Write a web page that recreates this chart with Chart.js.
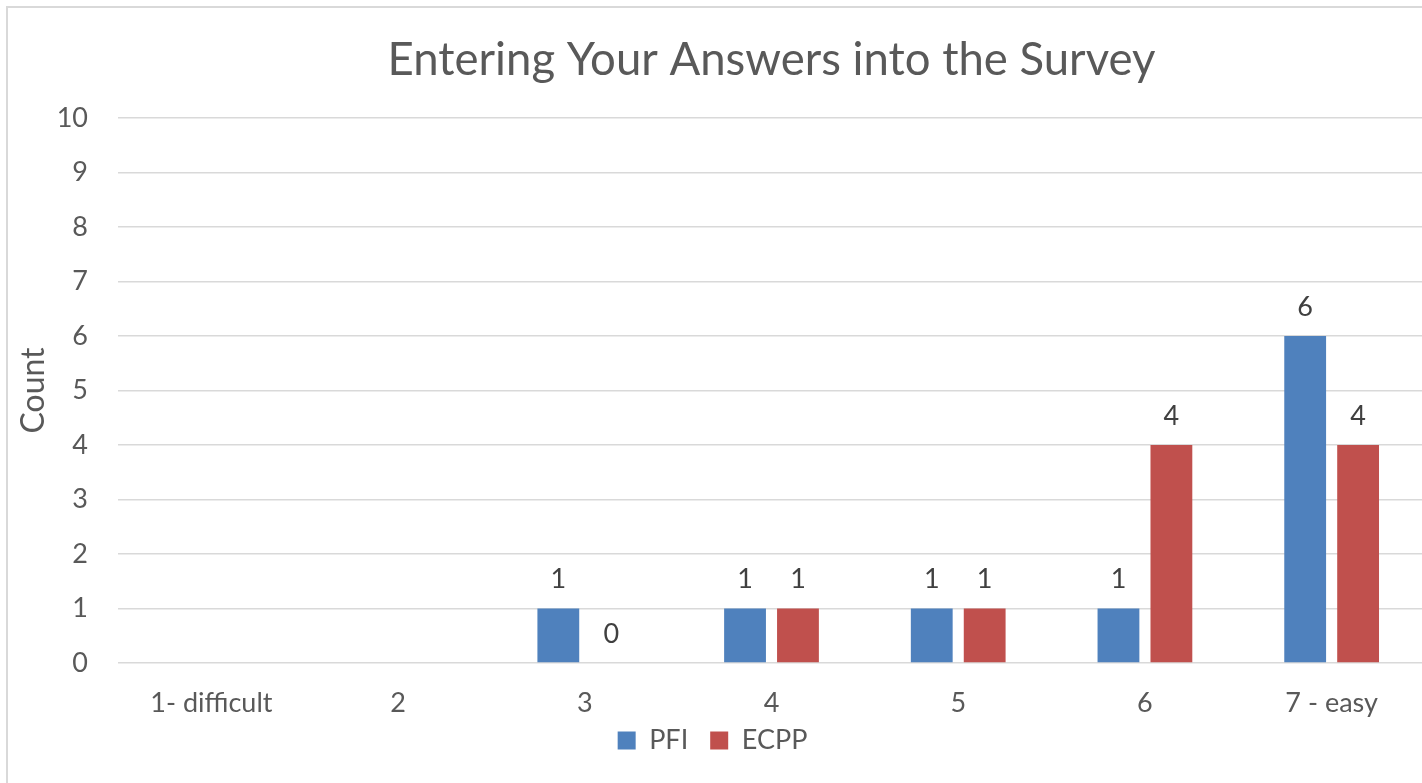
<!DOCTYPE html>
<html>
<head>
<meta charset="utf-8">
<script src="https://cdn.jsdelivr.net/npm/chart.js@4/dist/chart.umd.min.js"></script>
<style>
  html, body { margin: 0; padding: 0; background: #fff; overflow: hidden; }
  #frame { position: absolute; left: 6px; top: 6px; width: 1500px; height: 900px; border: 2px solid #d9d9d9; }
  #wrap { position: absolute; left: 0; top: 0; width: 1428px; height: 783px; }
</style>
</head>
<body>
<div id="frame"></div>
<div id="wrap"><canvas id="chart" width="1428" height="783"></canvas></div>
<script>
// Data
var CATEGORIES = ['1- difficult', '2', '3', '4', '5', '6', '7 - easy'];
var PFI = [null, null, 1, 1, 1, 1, 6];
var ECPP = [null, null, 0, 1, 1, 4, 4];
var Y_TICKS = [0, 1, 2, 3, 4, 5, 6, 7, 8, 9, 10];

var FONT = "Lato, 'Open Sans', sans-serif";
var TEXT = '#595959';

// Title centred over the plot area, like the original
var titlePlugin = {
  id: 'plotTitle',
  afterDraw: function(chart) {
    var ctx = chart.ctx, a = chart.chartArea;
    ctx.save();
    ctx.font = '45.5px ' + FONT;
    ctx.fillStyle = TEXT;
    ctx.textAlign = 'center';
    ctx.textBaseline = 'middle';
    ctx.fillText('Entering Your Answers into the Survey', (a.left + a.right) / 2, 60);
    ctx.restore();
  }
};

// Value labels above each bar (skips missing values)
var valuePlugin = {
  id: 'values',
  afterDatasetsDraw: function(chart) {
    var ctx = chart.ctx;
    ctx.save();
    ctx.font = '27px ' + FONT;
    ctx.fillStyle = '#404040';
    ctx.textAlign = 'center';
    ctx.textBaseline = 'middle';
    chart.data.datasets.forEach(function(ds, i) {
      chart.getDatasetMeta(i).data.forEach(function(bar, j) {
        var v = ds.data[j];
        if (v === null || v === undefined) return;
        ctx.fillText(String(v), bar.x, bar.y - 29);
      });
    });
    ctx.restore();
  }
};

// Nudge the legend a little closer to the axis labels
var legendShift = {
  id: 'legendShift',
  afterLayout: function(chart) {
    if (chart.legend) { chart.legend.top -= 12; chart.legend.bottom -= 12; }
  }
};

new Chart(document.getElementById('chart').getContext('2d'), {
  type: 'bar',
  data: {
    labels: CATEGORIES,
    datasets: [
      { label: 'PFI', data: PFI, backgroundColor: '#4F81BD' },
      { label: 'ECPP', data: ECPP, backgroundColor: '#C0504D' }
    ]
  },
  options: {
    responsive: false,
    animation: false,
    devicePixelRatio: 1,
    categoryPercentage: 0.567,
    barPercentage: 0.79,
    layout: { padding: { top: 118, left: 0, right: 3, bottom: 7 } },
    plugins: {
      title: { display: false },
      tooltip: { enabled: false },
      legend: {
        position: 'bottom',
        labels: {
          font: { family: FONT, size: 27 },
          color: TEXT,
          boxWidth: 18,
          boxHeight: 18,
          padding: 22
        }
      }
    },
    scales: {
      x: {
        grid: { display: false },
        border: { display: false },
        ticks: { font: { family: FONT, size: 27 }, color: TEXT, padding: 16, maxRotation: 0 },
        afterFit: function(s) { s.height = 54; }
      },
      y: {
        min: 0,
        max: 10,
        afterBuildTicks: function(s) { s.ticks = Y_TICKS.map(function(v) { return { value: v }; }); },
        grid: { color: '#d9d9d9', lineWidth: 1.5, drawTicks: false },
        border: { display: false },
        ticks: { font: { family: FONT, size: 27 }, color: TEXT, padding: 30 },
        title: { display: true, text: 'Count', font: { family: FONT, size: 32 }, color: TEXT, padding: { top: 14 } },
        afterFit: function(s) { s.width = 118; }
      }
    }
  },
  plugins: [titlePlugin, valuePlugin, legendShift]
});
</script>
</body>
</html>
